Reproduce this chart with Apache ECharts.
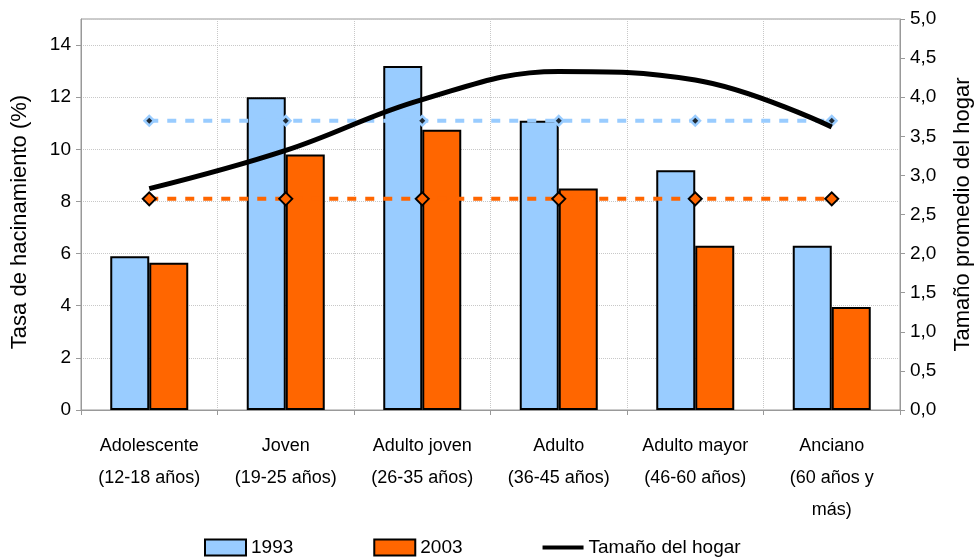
<!DOCTYPE html>
<html>
<head>
<meta charset="utf-8">
<script src="https://cdn.jsdelivr.net/npm/echarts@6/dist/echarts.min.js"></script>
<style>
html,body{margin:0;padding:0;background:#fff;}
#chart{width:975px;height:557px;}
</style>
</head>
<body>
<div id="chart"></div>
<script>
const categories = ['Adolescente\n(12-18 años)', 'Joven\n(19-25 años)', 'Adulto joven\n(26-35 años)', 'Adulto\n(36-45 años)', 'Adulto mayor\n(46-60 años)', 'Anciano\n(60 años y\nmás)'];
const rate1993 = [5.9, 12.0, 13.2, 11.1, 9.2, 6.3];
const rate2003 = [5.65, 9.8, 10.75, 8.5, 6.3, 3.95];
const householdSize = [2.83, 3.32, 3.97, 4.33, 4.22, 3.62];
const avg1993 = [11.1, 11.1, 11.1, 11.1, 11.1, 11.1];
const avg2003 = [8.1, 8.1, 8.1, 8.1, 8.1, 8.1];

const FONT = '"Liberation Sans", Arial, sans-serif';
const chart = echarts.init(document.getElementById('chart'));
chart.setOption({
  animation: false,
  backgroundColor: '#fff',
  textStyle: { fontFamily: FONT, color: '#000' },
  grid: { left: 81, right: 75, top: 19, bottom: 147, show: true, borderColor: '#999', borderWidth: 1,
    outerBoundsMode: 'none', containLabel: false },
  legend: {
    data: [
      { name: '1993', icon: 'rect' },
      { name: '2003', icon: 'rect' },
      { name: 'Tamaño del hogar', icon: 'path://M0,0 L10,0 L10,1 L0,1 Z', itemStyle: { color: '#000', borderWidth: 0 } }
    ],
    left: 199, top: 533,
    itemWidth: 41, itemHeight: 16, itemGap: 80,
    textStyle: { fontFamily: FONT, fontSize: 19, color: '#000' }
  },
  xAxis: {
    type: 'category',
    data: categories,
    axisLine: { lineStyle: { color: '#999', width: 1 } },
    axisTick: { show: true, length: 5, lineStyle: { color: '#999' } },
    axisLabel: { interval: 0, margin: 20, fontSize: 18, lineHeight: 32, color: '#000', fontFamily: FONT },
    splitLine: { show: true, lineStyle: { color: '#c8c8c8', type: 'dotted' } }
  },
  yAxis: [
    {
      type: 'value', min: 0, max: 15, interval: 2,
      name: 'Tasa de hacinamiento (%)', nameLocation: 'middle', nameGap: 50, nameRotate: 90,
      nameTextStyle: { fontSize: 22, fontFamily: FONT, color: '#000', padding: [0, 15, 0, 0] },
      axisLine: { show: true, lineStyle: { color: '#999' } },
      axisTick: { show: true, length: 5, lineStyle: { color: '#999' } },
      axisLabel: { fontSize: 19, color: '#000', margin: 10, showMaxLabel: false, fontFamily: FONT },
      splitLine: { show: true, lineStyle: { color: '#c8c8c8', type: 'dotted' } }
    },
    {
      type: 'value', min: 0, max: 5, interval: 0.5, position: 'right',
      name: 'Tamaño promedio del hogar', nameLocation: 'middle', nameGap: 52, nameRotate: 90,
      nameTextStyle: { fontSize: 22, fontFamily: FONT, color: '#000' },
      axisLine: { show: true, lineStyle: { color: '#999' } },
      axisTick: { show: true, length: 5, lineStyle: { color: '#999' } },
      axisLabel: { fontSize: 19, color: '#000', margin: 10, fontFamily: FONT,
        formatter: v => v.toFixed(1).replace('.', ',') },
      splitLine: { show: false }
    }
  ],
  series: [
    {
      name: '1993', type: 'bar', data: rate1993, barWidth: 39, barGap: '0%',
      itemStyle: { color: '#99CCFF', borderColor: '#000', borderWidth: 2 }, z: 2
    },
    {
      name: '2003', type: 'bar', data: rate2003, barWidth: 39, barGap: '0%',
      itemStyle: { color: '#FF6600', borderColor: '#000', borderWidth: 2 }, z: 2
    },
    {
      name: 'avg1993', type: 'line', data: avg1993, yAxisIndex: 0,
      lineStyle: { color: '#99CCFF', width: 4, type: [9, 9] },
      symbol: 'diamond', symbolSize: 13, itemStyle: { color: '#99CCFF' }, z: 3
    },
    {
      name: 'avg1993dot', type: 'scatter', data: avg1993, yAxisIndex: 0,
      symbol: 'diamond', symbolSize: 6, itemStyle: { color: '#000' }, z: 4
    },
    {
      name: 'avg2003', type: 'line', data: avg2003, yAxisIndex: 0,
      lineStyle: { color: '#FF6600', width: 4, type: [9, 9] },
      symbol: 'diamond', symbolSize: 13, itemStyle: { color: '#FF6600', borderColor: '#000', borderWidth: 2 }, z: 3
    },
    {
      name: 'Tamaño del hogar', type: 'line', data: householdSize, yAxisIndex: 1,
      smooth: 0.4, symbol: 'none', showSymbol: false,
      lineStyle: { color: '#000', width: 5 }, itemStyle: { color: '#000' }, z: 5
    }
  ]
});
</script>
</body>
</html>
